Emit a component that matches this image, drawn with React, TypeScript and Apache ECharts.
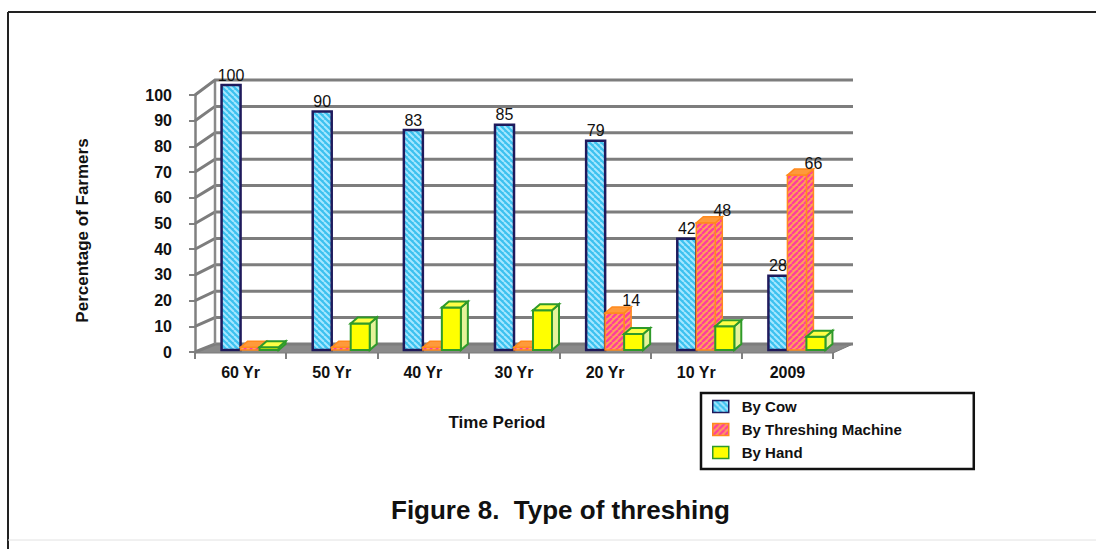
import React, { useEffect, useRef } from 'react';
import * as echarts from 'echarts';

// ---- data ----
const categories = ['60 Yr', '50 Yr', '40 Yr', '30 Yr', '20 Yr', '10 Yr', '2009'];
const byCow = [100, 90, 83, 85, 79, 42, 28];
const byMachine = [1, 1, 1, 1, 14, 48, 66];
const byHand = [1, 10, 16, 15, 6, 9, 5];
const yTicks = [0, 10, 20, 30, 40, 50, 60, 70, 80, 90, 100];
const seriesNames = ['By Cow', 'By Threshing Machine', 'By Hand'];
const chartTitle = 'Figure 8.  Type of threshing';
const xTitle = 'Time Period';
const yTitle = 'Percentage of Farmers';

const FONT = '"Liberation Sans", Arial, Helvetica, sans-serif';
const BAR_W = 19;
const DX = 7;
const DY = 6;
const WALL_DX = 20;

function stripes(bg: string, fg: string, dir: string, size: number, lw: number) {
  const c = document.createElement('canvas');
  c.width = size;
  c.height = size;
  const ctx = c.getContext('2d') as CanvasRenderingContext2D;
  ctx.fillStyle = bg;
  ctx.fillRect(0, 0, size, size);
  ctx.strokeStyle = fg;
  ctx.lineWidth = lw;
  for (let k = -1; k <= 1; k++) {
    ctx.beginPath();
    if (dir === '/') {
      ctx.moveTo(k * size, size);
      ctx.lineTo(k * size + size, 0);
    } else {
      ctx.moveTo(k * size, 0);
      ctx.lineTo(k * size + size, size);
    }
    ctx.stroke();
  }
  return { image: c, repeat: 'repeat', imageWidth: size, imageHeight: size } as any;
}

function textEl(text: string, x: number, y: number) {
  return {
    type: 'text',
    style: {
      text,
      x,
      y,
      align: 'center',
      verticalAlign: 'middle',
      textAlign: 'center',
      textVerticalAlign: 'middle',
      fontSize: 16,
      fontFamily: FONT,
      fill: '#111',
    },
  };
}

export default function App() {
  const ref = useRef<HTMLDivElement>(null);

  useEffect(() => {
    if (!ref.current) return;
    const chart = echarts.init(ref.current, null, { renderer: 'svg' });

    const cowFill = stripes('#3cc1ef', '#a6e7ff', '\\', 6, 2);
    const machineFill = stripes('#ffa25a', '#ff3d9c', '/', 6, 2.4);
    const handFill = '#ffff00';

    const cowRender = (params: any, api: any) => {
      const i = api.value(0);
      const v = api.value(1);
      const top = api.coord([i, v]);
      const base = api.coord([i, 0]);
      const left = top[0] - BAR_W;
      return {
        type: 'group',
        children: [
          {
            type: 'rect',
            shape: { x: left, y: top[1], width: BAR_W, height: base[1] - top[1] },
            style: { fill: cowFill, stroke: '#1f1a5c', lineWidth: 2.5 },
          },
          textEl(String(v), left + BAR_W / 2, top[1] - 10),
        ],
      };
    };

    const boxRender = (kind: string) => (params: any, api: any) => {
      const i = api.value(0);
      const v = api.value(1);
      const top = api.coord([i, v]);
      const base = api.coord([i, 0]);
      const left = kind === 'machine' ? top[0] : top[0] + BAR_W;
      const y0 = top[1];
      const y1 = base[1];
      const stroke = kind === 'machine' ? '#ff8a1e' : '#2f9a2a';
      const lw = kind === 'machine' ? 1.5 : 2;
      const front = kind === 'machine' ? machineFill : handFill;
      const topFill = kind === 'machine' ? '#ff9a3a' : '#ffff45';
      const sideFill = kind === 'machine' ? machineFill : '#e6f39a';
      const children: any[] = [
        {
          type: 'polygon',
          shape: {
            points: [
              [left + BAR_W, y0],
              [left + BAR_W + DX, y0 - DY],
              [left + BAR_W + DX, y1 - DY],
              [left + BAR_W, y1],
            ],
          },
          style: { fill: sideFill, stroke, lineWidth: lw },
        },
        {
          type: 'rect',
          shape: { x: left, y: y0, width: BAR_W, height: y1 - y0 },
          style: { fill: front, stroke, lineWidth: lw },
        },
        {
          type: 'polygon',
          shape: {
            points: [
              [left, y0],
              [left + DX, y0 - DY],
              [left + BAR_W + DX, y0 - DY],
              [left + BAR_W, y0],
            ],
          },
          style: { fill: topFill, stroke, lineWidth: lw },
        },
      ];
      if (kind === 'machine' && v >= 5) {
        children.push(textEl(String(v), left + 26, y0 - 12));
      }
      return { type: 'group', children };
    };

    const wallRender = (params: any, api: any) => {
      const v = api.value(1);
      const p = api.coord([0, v]);
      const cs = params.coordSys;
      const x0 = cs.x;
      const x1 = cs.x + cs.width;
      const dy = 8 + 0.07 * v;
      const children: any[] = [];
      if (v === 0) {
        children.push({
          type: 'polygon',
          shape: {
            points: [
              [x0, p[1] + 1],
              [x1, p[1] + 1],
              [x1 + WALL_DX, p[1] - dy],
              [x0 + WALL_DX, p[1] - dy],
            ],
          },
          style: { fill: '#8a8a8a', stroke: '#7a7a7a', lineWidth: 1 },
        });
      }
      if (v === 100) {
        const b = api.coord([0, 0]);
        children.push({
          type: 'line',
          shape: { x1: x0 + WALL_DX, y1: b[1] - 8, x2: x0 + WALL_DX, y2: p[1] - dy },
          style: { stroke: '#8a8a8a', lineWidth: 2.5 },
        });
      }
      children.push({
        type: 'polyline',
        shape: {
          points: [
            [x0, p[1]],
            [x0 + WALL_DX, p[1] - dy],
            [x1 + WALL_DX, p[1] - dy],
          ],
        },
        style: { stroke: '#7d7d7d', lineWidth: 3, fill: 'none' },
      });
      return { type: 'group', children };
    };

    const axisLabelStyle = { fontSize: 16, fontWeight: 'bold', color: '#111', fontFamily: FONT };

    chart.setOption({
      animation: false,
      backgroundColor: '#ffffff',
      title: {
        text: chartTitle,
        left: 386,
        top: 492,
        textStyle: { fontSize: 26, fontWeight: 'bold', color: '#111', fontFamily: FONT },
      },
      legend: {
        orient: 'vertical',
        left: 701,
        top: 393,
        padding: [6, 72, 9, 11],
        itemGap: 8,
        itemWidth: 16,
        itemHeight: 12,
        borderColor: '#111',
        borderWidth: 2.5,
        backgroundColor: '#fff',
        textStyle: { fontSize: 15, fontWeight: 'bold', color: '#111', fontFamily: FONT, padding: [0, 0, 0, 8] },
        data: [
          { name: seriesNames[0], icon: 'rect', itemStyle: { color: cowFill, borderColor: '#1f1a5c', borderWidth: 1.5 } },
          { name: seriesNames[1], icon: 'rect', itemStyle: { color: machineFill, borderColor: '#ff8a1e', borderWidth: 1.5 } },
          { name: seriesNames[2], icon: 'rect', itemStyle: { color: handFill, borderColor: '#2f9a2a', borderWidth: 1.5 } },
        ],
      },
      graphic: [
        { type: 'line', shape: { x1: 8, y1: 12, x2: 1096, y2: 12 }, style: { stroke: '#222', lineWidth: 2 } },
        { type: 'line', shape: { x1: 8, y1: 12, x2: 8, y2: 549 }, style: { stroke: '#222', lineWidth: 2 } },
        { type: 'line', shape: { x1: 8, y1: 540, x2: 1096, y2: 540 }, style: { stroke: '#e2e2e2', lineWidth: 1 } },
      ],
      grid: [
        { left: 195, right: 263, top: 85, bottom: 199 },
        { left: 195, right: 263, top: 95, bottom: 197 },
      ],
      xAxis: [
        { type: 'category', gridIndex: 0, data: categories, show: false },
        {
          type: 'category',
          gridIndex: 1,
          data: categories,
          axisLine: { show: true, lineStyle: { color: '#808080', width: 2 } },
          axisTick: { show: true, length: 7, lineStyle: { color: '#808080', width: 2 } },
          axisLabel: { ...axisLabelStyle, margin: 12 },
          name: xTitle,
          nameLocation: 'middle',
          nameGap: 62,
          nameTextStyle: { fontSize: 17, fontWeight: 'bold', color: '#111', fontFamily: FONT, padding: [0, 34, 0, 0] },
        },
      ],
      yAxis: [
        { type: 'value', gridIndex: 0, min: 0, max: 100, interval: 10, show: false },
        {
          type: 'value',
          gridIndex: 1,
          min: 0,
          max: 100,
          interval: 10,
          splitLine: { show: false },
          axisLine: { show: true, lineStyle: { color: '#808080', width: 2.5 } },
          axisTick: { show: true, length: 6, lineStyle: { color: '#808080', width: 2 } },
          axisLabel: { ...axisLabelStyle, margin: 23 },
          name: yTitle,
          nameLocation: 'middle',
          nameRotate: 90,
          nameGap: 104,
          nameTextStyle: { fontSize: 17, fontWeight: 'bold', color: '#111', fontFamily: FONT, padding: [0, 14, 0, 0] },
        },
      ],
      series: [
        {
          type: 'custom',
          name: 'wall',
          xAxisIndex: 1,
          yAxisIndex: 1,
          z: 1,
          silent: true,
          renderItem: wallRender,
          encode: { x: 0, y: 1 },
          data: yTicks.map((v) => [0, v]),
        },
        {
          type: 'custom',
          name: seriesNames[0],
          xAxisIndex: 0,
          yAxisIndex: 0,
          z: 3,
          itemStyle: { color: cowFill },
          renderItem: cowRender,
          encode: { x: 0, y: 1 },
          data: byCow.map((v, i) => [i, v]),
        },
        {
          type: 'custom',
          name: seriesNames[1],
          xAxisIndex: 0,
          yAxisIndex: 0,
          z: 4,
          itemStyle: { color: machineFill },
          renderItem: boxRender('machine'),
          encode: { x: 0, y: 1 },
          data: byMachine.map((v, i) => [i, v]),
        },
        {
          type: 'custom',
          name: seriesNames[2],
          xAxisIndex: 0,
          yAxisIndex: 0,
          z: 5,
          itemStyle: { color: handFill },
          renderItem: boxRender('hand'),
          encode: { x: 0, y: 1 },
          data: byHand.map((v, i) => [i, v]),
        },
      ],
    });

    return () => chart.dispose();
  }, []);

  return (
    <div
      ref={ref}
      style={{ position: 'fixed', left: 0, top: 0, width: 1096, height: 549, background: '#fff' }}
    />
  );
}
